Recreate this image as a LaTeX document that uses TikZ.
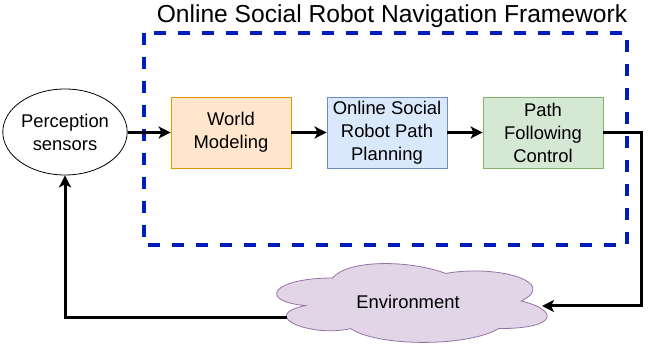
\documentclass[tikz,border=0pt]{standalone}
\usepackage{fontspec}
\setmainfont{Liberation Sans}
\usetikzlibrary{arrows.meta,shapes.geometric}
\definecolor{frameblue}{HTML}{001DBC}
\definecolor{orangefill}{HTML}{FFE6CC}\definecolor{orangeline}{HTML}{D79B00}
\definecolor{bluefill}{HTML}{DAE8FC}\definecolor{blueline}{HTML}{6C8EBF}
\definecolor{greenfill}{HTML}{D5E8D4}\definecolor{greenline}{HTML}{82B366}
\definecolor{cloudfill}{HTML}{E1D5E7}\definecolor{cloudline}{HTML}{9673A6}
\tikzset{
  lbl/.style={font=\fontsize{18.4}{23}\selectfont},
  block/.style={draw, line width=0.8pt, minimum width=120pt, minimum height=71pt,
    inner sep=0pt, align=center, lbl},
  flow/.style={line width=3pt, -{Stealth[length=12pt,width=12pt,inset=3pt]}}
}
\begin{document}
\begin{tikzpicture}[x=1pt,y=-1pt]
\useasboundingbox (0,0) rectangle (656,347);

% framework boundary and title
\draw[frameblue, line width=4pt, dash pattern=on 12pt off 12pt] (144,33) rectangle (627,245);
\node[font=\fontsize{24.6}{28}\selectfont] (title) at (392,16) {Online Social Robot Navigation Framework};

% sensors
\node[ellipse, draw, line width=0.8pt, minimum width=108pt, minimum height=86pt, inner sep=0pt,
      align=center, lbl] (perc) at (65,132) {Perception\\sensors};

% processing blocks
\node[block, fill=orangefill, draw=orangeline] (world) at (231,132.5) {World\\Modeling};
\node[block, fill=bluefill, draw=blueline] (plan) at (387,132.5) {Online Social\\Robot Path\\Planning};
\node[block, fill=greenfill, draw=greenline] (ctrl) at (543,132.5) {Path\\Following\\Control};

% environment cloud
\begin{scope}[shift={(257,255)}, x=302pt, y=-92pt]
  \draw[fill=cloudfill, draw=cloudline, line width=0.8pt]
    (0.25,0.25) .. controls (0.05,0.25) and (0,0.5) .. (0.16,0.55)
    .. controls (0,0.66) and (0.18,0.9) .. (0.31,0.8)
    .. controls (0.4,1) and (0.7,1) .. (0.8,0.8)
    .. controls (1,0.8) and (1,0.6) .. (0.875,0.5)
    .. controls (1,0.3) and (0.8,0.1) .. (0.625,0.2)
    .. controls (0.5,0.05) and (0.3,0.05) .. (0.25,0.25) -- cycle;
\end{scope}
\node[lbl] (env) at (408,302) {Environment};
\coordinate (envIn) at (542,306);
\coordinate (envOut) at (287,318);

% connectors
\draw[flow] (perc.east |- world.west) -- (world.west);
\draw[flow] (world.east) -- (plan.west);
\draw[flow] (plan.east) -- (ctrl.west);
\draw[flow] (ctrl.east) -- (641,132.5) |- (envIn);
\draw[flow] (envOut) -| (perc.south);
\end{tikzpicture}
\end{document}
